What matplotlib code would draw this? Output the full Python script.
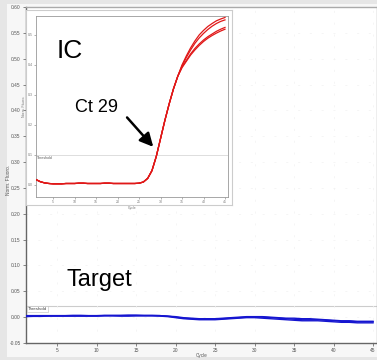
import matplotlib
matplotlib.use("Agg")
import matplotlib.pyplot as plt

plt.rcParams['font.family'] = ['Liberation Sans', 'DejaVu Sans']

# ---------------- data ----------------
cycles = list(range(1, 46))

ic_base = [0.018, 0.011, 0.007, 0.005, 0.004, 0.004, 0.004, 0.005, 0.005, 0.005,
           0.006, 0.006, 0.005, 0.005, 0.005, 0.005, 0.006, 0.006, 0.005, 0.005,
           0.005, 0.005, 0.005, 0.005, 0.006, 0.010, 0.022, 0.048, 0.095, 0.155,
           0.215, 0.270, 0.320, 0.362]
ic_tail_a = [0.400, 0.430, 0.457, 0.480, 0.500, 0.515, 0.528, 0.538, 0.547, 0.553, 0.558]
ic_tail_b = [0.397, 0.425, 0.450, 0.472, 0.490, 0.505, 0.518, 0.529, 0.538, 0.545, 0.550]
ic_tail_c = [0.393, 0.415, 0.437, 0.455, 0.470, 0.483, 0.494, 0.503, 0.512, 0.519, 0.525]
ic_tail_d = [0.391, 0.412, 0.433, 0.450, 0.465, 0.478, 0.489, 0.498, 0.506, 0.513, 0.519]
ic_curves = [ic_base + ic_tail_a, ic_base + ic_tail_b,
             ic_base + ic_tail_c, ic_base + ic_tail_d]

target_a = [0.002, 0.0025, 0.0025, 0.0025, 0.0025, 0.0025, 0.0025, 0.0025, 0.0025, 0.0025,
            0.003, 0.003, 0.003, 0.003, 0.003, 0.003, 0.003, 0.003, 0.002, 0.000,
            -0.002, -0.003, -0.004, -0.004, -0.004, -0.003, -0.002, -0.001, 0.000, 0.000,
            0.000, -0.001, -0.002, -0.003, -0.004, -0.005, -0.005, -0.005, -0.006, -0.007,
            -0.008, -0.008, -0.009, -0.009, -0.009]
target_b = [0.001, 0.0015, 0.0015, 0.002, 0.002, 0.002, 0.002, 0.002, 0.002, 0.002,
            0.0025, 0.0025, 0.002, 0.002, 0.0025, 0.0025, 0.0025, 0.002, 0.001, -0.001,
            -0.003, -0.004, -0.005, -0.005, -0.005, -0.004, -0.003, -0.002, -0.001, -0.001,
            -0.002, -0.003, -0.004, -0.005, -0.006, -0.007, -0.007, -0.007, -0.008, -0.009,
            -0.010, -0.010, -0.011, -0.011, -0.011]
target_c = [0.003, 0.003, 0.003, 0.003, 0.003, 0.003, 0.0035, 0.0035, 0.003, 0.003,
            0.0035, 0.0035, 0.0035, 0.004, 0.004, 0.0035, 0.0035, 0.003, 0.002, 0.001,
            -0.001, -0.002, -0.003, -0.003, -0.003, -0.002, -0.001, 0.000, 0.001, 0.001,
            0.001, 0.000, -0.001, -0.002, -0.002, -0.003, -0.003, -0.004, -0.005, -0.006,
            -0.007, -0.007, -0.008, -0.008, -0.008]
target_curves = [target_a, target_b, target_c]

main_threshold = 0.021
ic_threshold = 0.10

main_yticks = [-0.05, 0.00, 0.05, 0.10, 0.15, 0.20, 0.25, 0.30, 0.35, 0.40, 0.45, 0.50, 0.55, 0.60]
xticks = [5, 10, 15, 20, 25, 30, 35, 40, 45]
inset_yticks = [0.0, 0.1, 0.2, 0.3, 0.4, 0.5]

# ---------------- figure ----------------
W, H = 377, 360
fig = plt.figure(figsize=(W / 100, H / 100), dpi=100, facecolor='#e6e6e6')

def fr(x0, y0, x1, y1):
    """pixel box (top-left origin) -> figure fraction rect"""
    return [x0 / W, 1 - y1 / H, (x1 - x0) / W, (y1 - y0) / H]

# light panel
panel = fig.add_axes(fr(7, 4, 377, 357))
panel.set_facecolor('#f7f7f7')
panel.set_xticks([]); panel.set_yticks([])
for s in panel.spines.values():
    s.set_visible(False)

# main axes
ax = fig.add_axes(fr(25.5, 7, 377, 343))
ax.set_facecolor('white')
ax.set_xlim(1, 45.5)
ax.set_ylim(-0.05, 0.60)
ax.set_yticks(main_yticks)
ax.set_yticklabels([f"{v:.2f}" for v in main_yticks])
ax.set_xticks(xticks)
ax.tick_params(labelsize=3.5, colors='#555555', length=2, width=0.5, pad=1.5)
for side in ['left', 'bottom']:
    ax.spines[side].set_color('#666666')
    ax.spines[side].set_linewidth(1.0)
for side in ['top', 'right']:
    ax.spines[side].set_color('#aaaaaa')
    ax.spines[side].set_linewidth(1.0)
ax.grid(True, color='#f2f2f2', linewidth=0.5, linestyle=(0, (3, 14)))
fig.text(202 / W, 1 - 355.5 / H, 'Cycle', fontsize=3.3, color='#555555',
         ha='center', va='center')
fig.text(8.5 / W, 1 - 180 / H, 'Norm. Fluoro.', fontsize=3.5, color='#555555',
         ha='center', va='center', rotation=90)

ax.axhline(main_threshold, color='#cccccc', linewidth=0.8, zorder=1)
ax.text(1.3, main_threshold - 0.002, 'Threshold', fontsize=3.2, color='#444444',
        va='top', ha='left',
        bbox=dict(boxstyle='square,pad=0.2', fc='white', ec='#bbbbbb', lw=0.4))
for tc in target_curves:
    ax.plot(cycles, tc, color='#1515d0', linewidth=1.0, zorder=3)
ax.text(0.118, 0.155, 'Target', transform=ax.transAxes, fontsize=17,
        color='black', ha='left', va='bottom')

# inset outer frame
frame = fig.add_axes(fr(26, 10, 232, 205))
frame.set_facecolor('white')
frame.set_xticks([]); frame.set_yticks([])
for s in frame.spines.values():
    s.set_color('#cccccc')
    s.set_linewidth(0.8)

# inset axes
ins = fig.add_axes(fr(36, 16, 228, 197))
ins.set_facecolor('white')
ins.set_xlim(1, 45.7)
ins.set_ylim(-0.04, 0.563)
ins.set_xticks(xticks)
ins.set_yticks(inset_yticks)
ins.set_yticklabels([f"{v:.1f}" for v in inset_yticks])
ins.tick_params(labelsize=2.5, colors='#777777', length=1.5, width=0.4, pad=1)
for s in ins.spines.values():
    s.set_color('#999999')
    s.set_linewidth(0.6)
ins.set_xlabel('Cycle', fontsize=2.5, color='#777777', labelpad=1)
ins.set_ylabel('Norm. Fluoro.', fontsize=2.5, color='#777777', labelpad=1)
ins.axhline(ic_threshold, color='#d8d8d8', linewidth=0.6, zorder=1)
ins.text(1.3, ic_threshold - 0.004, 'Threshold', fontsize=2.5, color='#555555',
         va='top', ha='left')
for cv in ic_curves:
    ins.plot(cycles, cv, color='#e01818', linewidth=0.9, zorder=3)

ins.text(0.11, 0.74, 'IC', transform=ins.transAxes, fontsize=19,
         color='black', ha='left', va='bottom')
ins.text(0.205, 0.45, 'Ct 29', transform=ins.transAxes, fontsize=13,
         color='black', ha='left', va='bottom')
ins.annotate('', xy=(28.3, 0.127), xytext=(22.2, 0.225),
             arrowprops=dict(arrowstyle='-|>,head_length=0.8,head_width=0.4',
                             color='black', lw=1.8, shrinkA=0, shrinkB=0))

fig.savefig('out.png', dpi=100, facecolor=fig.get_facecolor())
